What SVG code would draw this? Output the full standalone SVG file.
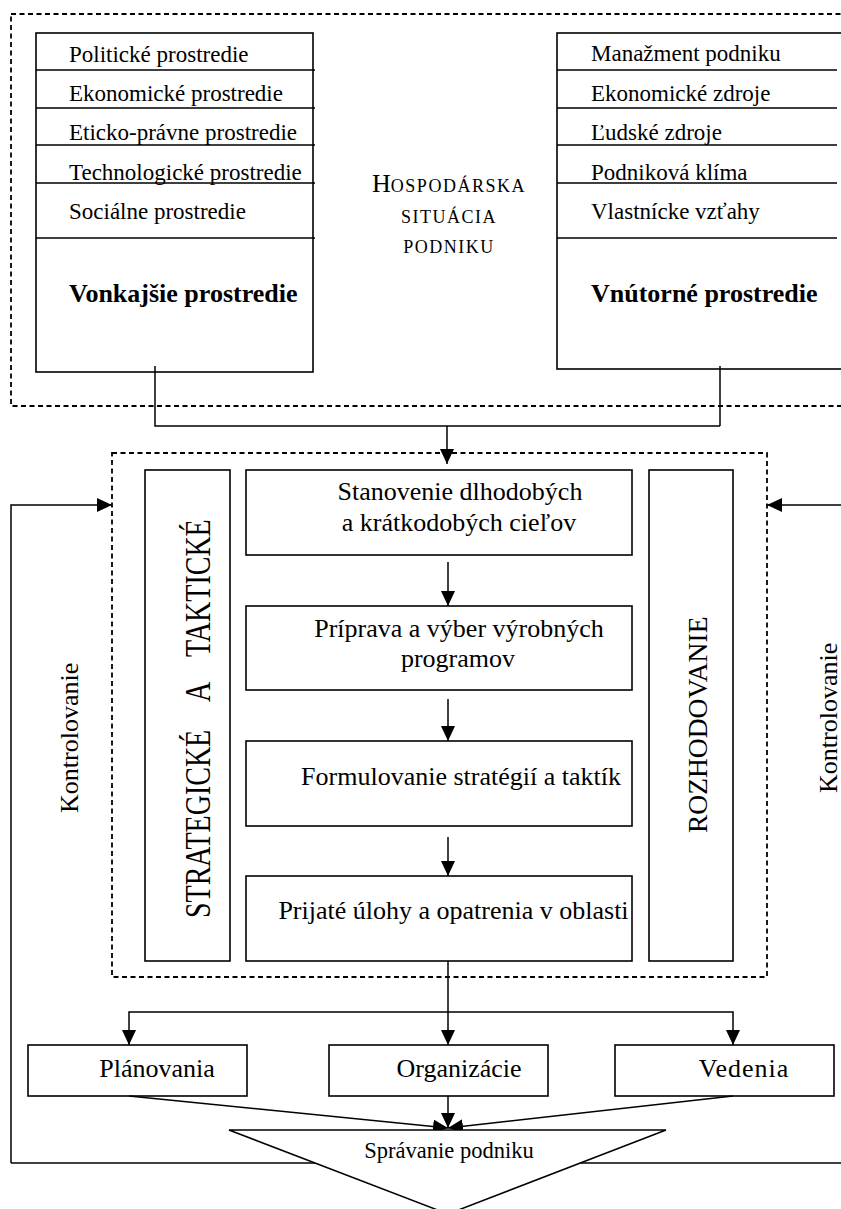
<svg xmlns="http://www.w3.org/2000/svg" width="841" height="1209" viewBox="0 0 841 1209">
<defs>
<style>
.b{fill:none;stroke:#000;stroke-width:1.6}
.d{fill:none;stroke:#000;stroke-width:1.8;stroke-dasharray:5 3.5}
.c{fill:none;stroke:#000;stroke-width:1.5}
.t{font-family:"Liberation Serif","Times New Roman",serif;fill:#000}
.l{font-size:23px}
.m{font-size:26px;text-anchor:middle}
.bold{font-size:26px;font-weight:bold}
</style>
<marker id="ah" markerUnits="userSpaceOnUse" markerWidth="16" markerHeight="14" refX="15" refY="7" orient="auto">
<path d="M0,0 L15,7 L0,14 z" fill="#000"/>
</marker>
</defs>
<rect width="841" height="1209" fill="#fff"/>

<g id="connectors">
<path class="c" d="M155 366 V426 H720"/>
<path class="c" d="M720 366 V426"/>
<path class="c" d="M447 426 V464" marker-end="url(#ah)"/>
<path class="c" d="M448 562 V606" marker-end="url(#ah)"/>
<path class="c" d="M448 699 V741" marker-end="url(#ah)"/>
<path class="c" d="M448 837 V876" marker-end="url(#ah)"/>
<path class="c" d="M448 961 V1045" marker-end="url(#ah)"/>
<path class="c" d="M448 1012 H129 V1045" marker-end="url(#ah)"/>
<path class="c" d="M448 1012 H733 V1045" marker-end="url(#ah)"/>
<path class="c" d="M129 1096 L448 1128" marker-end="url(#ah)"/>
<path class="c" d="M733 1096 L448 1128" marker-end="url(#ah)"/>
<path class="c" d="M448 1096 V1128" marker-end="url(#ah)"/>
<path class="c" d="M11 1163 V505 H112" marker-end="url(#ah)"/>
<path class="c" d="M11 1163 H850"/>
<path class="c" d="M850 505 H767" marker-end="url(#ah)"/>
</g>

<g id="env-frame">
<rect class="d" x="11" y="14" width="840" height="392"/>
</g>

<g id="vonkajsie">
<rect class="b" x="36" y="33" width="277" height="339"/>
<path class="b" d="M36 70 H315 M36 108 H315 M36 145 H315 M36 183 H315 M36 238 H315"/>
<text class="t l" x="69" y="61.5">Politické prostredie</text>
<text class="t l" x="69" y="100.5">Ekonomické prostredie</text>
<text class="t l" x="69" y="140">Eticko-právne prostredie</text>
<text class="t l" x="69" y="180">Technologické prostredie</text>
<text class="t l" x="69" y="219">Sociálne prostredie</text>
<text class="t bold" x="69" y="302">Vonkajšie prostredie</text>
</g>

<g id="hospodarska">
<text class="t" text-anchor="middle" x="449" y="192"><tspan font-size="26">H</tspan><tspan font-size="18" letter-spacing="1.5">OSPODÁRSKA</tspan></text>
<text class="t" text-anchor="middle" x="449" y="223" font-size="18" letter-spacing="1.5">SITUÁCIA</text>
<text class="t" text-anchor="middle" x="449" y="253" font-size="18" letter-spacing="1.5">PODNIKU</text>
</g>

<g id="vnutorne">
<rect class="b" x="557" y="33" width="300" height="336"/>
<path class="b" d="M557 70 H837 M557 108 H837 M557 145 H837 M557 183 H837 M557 238 H837"/>
<text class="t l" x="591" y="61">Manažment podniku</text>
<text class="t l" x="591" y="100.5">Ekonomické zdroje</text>
<text class="t l" x="591" y="140">Ľudské zdroje</text>
<text class="t l" x="591" y="180">Podniková klíma</text>
<text class="t l" x="591" y="219">Vlastnícke vzťahy</text>
<text class="t bold" x="591" y="302">Vnútorné prostredie</text>
</g>

<g id="mgmt-frame">
<rect class="d" x="112" y="453" width="655" height="524"/>
</g>

<g id="strategicke">
<rect class="b" x="145" y="470" width="85" height="491"/>
<g transform="translate(210,918) rotate(-90) scale(1,1.3)">
<text class="t" font-size="28" x="0" y="0">STRATEGICKÉ</text>
<text class="t" font-size="28" x="216" y="0">A</text>
<text class="t" font-size="28" x="261" y="0">TAKTICKÉ</text>
</g>
</g>

<g id="ciele">
<rect class="b" x="246" y="470" width="386" height="85"/>
<text class="t m" x="460" y="500">Stanovenie dlhodobých</text>
<text class="t m" x="459" y="531">a krátkodobých cieľov</text>
</g>
<g id="priprava">
<rect class="b" x="246" y="606" width="386" height="84"/>
<text class="t m" x="459" y="637">Príprava a výber výrobných</text>
<text class="t m" x="458" y="667">programov</text>
</g>
<g id="formulovanie">
<rect class="b" x="246" y="741" width="386" height="85"/>
<text class="t m" x="461" y="785">Formulovanie stratégií a taktík</text>
</g>
<g id="prijate">
<rect class="b" x="246" y="876" width="386" height="85"/>
<text class="t m" x="453.5" y="919">Prijaté úlohy a opatrenia v oblasti</text>
</g>

<g id="rozhodovanie">
<rect class="b" x="649" y="470" width="84" height="491"/>
<text class="t" font-size="27.5" transform="translate(707,833) rotate(-90)">ROZHODOVANIE</text>
</g>

<g id="kontrolovanie-l">
<text class="t" font-size="26" transform="translate(78,813) rotate(-90)">Kontrolovanie</text>
</g>
<g id="kontrolovanie-r">
<text class="t" font-size="26" transform="translate(837,793) rotate(-90)">Kontrolovanie</text>
</g>

<g id="planovania">
<rect class="b" x="28" y="1045" width="219" height="51"/>
<text class="t m" x="157" y="1077">Plánovania</text>
</g>
<g id="organizacie">
<rect class="b" x="329" y="1045" width="219" height="51"/>
<text class="t m" x="459" y="1077">Organizácie</text>
</g>
<g id="vedenia">
<rect class="b" x="615" y="1045" width="219" height="51"/>
<text class="t m" x="744" y="1077" letter-spacing="1">Vedenia</text>
</g>

<g id="spravanie">
<polygon points="229,1130 666,1130 448,1214" fill="#fff" stroke="#000" stroke-width="1.5"/>
<text class="t" font-size="22.5" text-anchor="middle" x="449" y="1158">Správanie podniku</text>
</g>
</svg>
